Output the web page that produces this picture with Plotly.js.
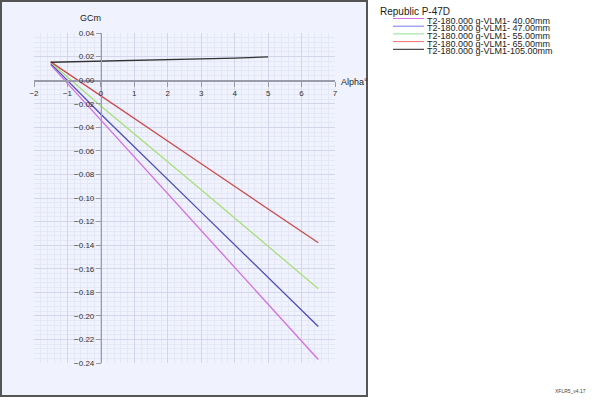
<!DOCTYPE html>
<html>
<head>
<meta charset="utf-8">
<script src="https://cdn.plot.ly/plotly-3.0.1.min.js"></script>
<style>html,body{margin:0;padding:0;background:#fff;}#chart{width:600px;height:405px;}</style>
</head>
<body>
<div id="chart"></div>
<script>
// ---- data ----
const chartTitle = "Republic P-47D";
const seriesNames = [
  "T2-180.000 g-VLM1- 40.00mm",
  "T2-180.000 g-VLM1- 47.00mm",
  "T2-180.000 g-VLM1- 55.00mm",
  "T2-180.000 g-VLM1- 65.00mm",
  "T2-180.000 g-VLM1-105.00mm"
];
const seriesColors = ["#d46ee0", "#4d4db8", "#a6e07a", "#cc4a4a", "#333333"];
const legendColors = ["#e070e8", "#7878f0", "#90e090", "#f07070", "#222222"];
const alpha = [-1.5, 0, 3, 6.5];
const cm40 = [0.013, -0.034, -0.128, -0.237];
const cm47 = [0.014, -0.029, -0.112, -0.209];
const cm55 = [0.015, -0.022, -0.093, -0.177];
const cm65 = [0.0155, -0.0135, -0.071, -0.138];
const alpha105 = [-1.5, 0, 1, 2, 3, 4, 5];
const cm105 = [0.0152, 0.016, 0.0165, 0.0171, 0.0178, 0.0187, 0.0197];
const xTitle = "Alpha°";
const yTitle = "GCm";
const versionText = "XFLR5_v4.17";

// ---- layout geometry ----
const W = 600, H = 405;
const L = 34, R = 265, T = 33, B = 42;
const pw = W - L - R, ph = H - T - B;
const px = v => (v - L) / pw;           // pixel x -> paper x
const py = v => (H - B - v) / ph;       // pixel y -> paper y

const xs = [alpha, alpha, alpha, alpha, alpha105];
const ys = [cm40, cm47, cm55, cm65, cm105];
const traces = ys.map((y, i) => ({
  x: xs[i], y: y, type: "scatter", mode: "lines", name: seriesNames[i],
  line: {color: seriesColors[i], width: 1.3}, showlegend: false, hoverinfo: "skip"
}));

const font = "Liberation Sans, DejaVu Sans, sans-serif";
const xRange = [-2, 7], yRange = [-0.24, 0.04];

const shapes = [{
  type: "rect", xref: "paper", yref: "paper", layer: "below",
  x0: px(1), x1: px(367), y0: py(396), y1: py(1),
  fillcolor: "#f0f2fd", line: {color: "#555555", width: 2}
}];
const annotations = [
  {text: yTitle, xref: "paper", yref: "paper", x: px(90), y: py(18), xanchor: "center", yanchor: "middle",
   showarrow: false, font: {family: font, size: 9, color: "#222"}},
  {text: xTitle, xref: "paper", yref: "paper", x: px(339), y: py(82), xanchor: "left", yanchor: "middle",
   showarrow: false, font: {family: font, size: 9, color: "#222"}},
  {text: chartTitle, xref: "paper", yref: "paper", x: px(379), y: py(11.5), xanchor: "left", yanchor: "middle",
   showarrow: false, borderpad: 0, font: {family: font, size: 10, color: "#222"}},
  {text: versionText, xref: "paper", yref: "paper", x: px(553), y: py(391), xanchor: "left", yanchor: "middle",
   showarrow: false, font: {family: font, size: 5, color: "#444"}}
];
seriesNames.forEach((n, i) => {
  const yl = 18.5 + i * 7.7;
  shapes.push({type: "line", xref: "paper", yref: "paper", x0: px(393), x1: px(424), y0: py(yl), y1: py(yl),
    line: {color: legendColors[i], width: 1}});
  annotations.push({text: n, xref: "paper", yref: "paper", x: px(426), y: py(yl + 2.2), xanchor: "left", yanchor: "middle",
    showarrow: false, borderpad: 0, font: {family: font, size: 9, color: "#222"}});
});

const axisCommon = {
  showline: true, linecolor: "#9a9aaa", linewidth: 1.5,
  ticks: "outside", ticklen: 5, tickcolor: "#9a9aaa", tickwidth: 1,
  showgrid: true, gridcolor: "#d3d6ea", gridwidth: 1, zeroline: false,
  tickfont: {family: font, size: 8, color: "#333"}, fixedrange: true
};

const layout = {
  width: W, height: H,
  margin: {l: L, r: R, t: T, b: B, pad: 0},
  paper_bgcolor: "#ffffff", plot_bgcolor: "rgba(0,0,0,0)",
  showlegend: false,
  xaxis: Object.assign({}, axisCommon, {
    range: xRange, dtick: 1, tick0: 0, anchor: "free",
    position: (0 - yRange[0]) / (yRange[1] - yRange[0]),
    minor: {dtick: 0.2, showgrid: true, gridcolor: "#e4e7f5", gridwidth: 1}
  }),
  yaxis: Object.assign({}, axisCommon, {
    range: yRange, dtick: 0.02, tick0: 0, tickformat: ".2f", anchor: "free",
    position: (0 - xRange[0]) / (xRange[1] - xRange[0]),
    minor: {dtick: 0.004, showgrid: true, gridcolor: "#e4e7f5", gridwidth: 1}
  }),
  shapes: shapes,
  annotations: annotations
};

Plotly.newPlot("chart", traces, layout, {displayModeBar: false, staticPlot: true});
</script>
</body>
</html>
